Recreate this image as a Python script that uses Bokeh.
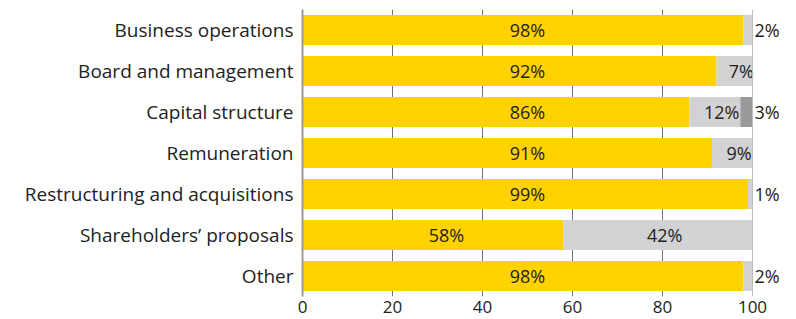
from bokeh.plotting import figure
from bokeh.models import ColumnDataSource, FactorRange, FixedTicker, Span
from bokeh.core.properties import value
from bokeh.embed import file_html
from bokeh.resources import INLINE
import numpy as np

categories = ["Business operations", "Board and management", "Capital structure",
              "Remuneration", "Restructuring and acquisitions", "Shareholders\u2019 proposals", "Other"]
for_votes = [98, 92, 86, 91, 99, 58, 98]
against_votes = [2, 8, 11.3, 9, 1, 42, 2]
abstain_votes = [0, 0, 2.7, 0, 0, 0, 0]
for_labels = ["98%", "92%", "86%", "91%", "99%", "58%", "98%"]
against_labels = ["2%", "7%", "12%", "9%", "1%", "42%", "2%"]
abstain_labels = ["", "", "3%", "", "", "", ""]
x_ticks = [0, 20, 40, 60, 80, 100]

YELLOW = "#FFD200"
LGREY = "#D2D2D4"
DGREY = "#999999"
TXT = "#222222"
FONT = "Open Sans"

f = np.array(for_votes, float)
a = np.array(against_votes, float)
b = np.array(abstain_votes, float)

src = ColumnDataSource(dict(cat=categories, f0=np.zeros(len(f)), f1=f, a1=f + a, b1=f + a + b))

# frame spans from 0 (px 302) to the right edge; 100 sits at px 752
X_END = 100 * (796 - 302) / (752 - 302)

p = figure(width=796, height=319, output_backend="svg", toolbar_location=None, title=None,
           y_range=FactorRange(factors=list(reversed(categories)), range_padding=0),
           x_range=(0, X_END), min_border_left=302, min_border_right=0,
           min_border_top=9, min_border_bottom=23)
p.outline_line_color = None
p.background_fill_color = "white"
p.border_fill_color = "white"

H = 0.73
p.hbar(y="cat", left="f0", right="f1", height=H, color=YELLOW, line_color=None, source=src)
p.hbar(y="cat", left="f1", right="a1", height=H, color=LGREY, line_color=None, source=src)
p.hbar(y="cat", left="a1", right="b1", height=H, color=DGREY, line_color=None, source=src)

p.add_layout(Span(location=100, dimension="height", line_color="#BDBDBD", line_width=1))

# labels
in_x, in_y, in_t = [], [], []
out_x, out_y, out_t = [], [], []
for i, c in enumerate(categories):
    fx = 50 if f[i] >= 80 else f[i] / 2 + 3
    in_x.append(fx); in_y.append(c); in_t.append(for_labels[i])
    for seg_l, seg_w, lab in ((f[i], a[i], against_labels[i]), (f[i] + a[i], b[i], abstain_labels[i])):
        if not lab:
            continue
        if seg_w >= 5:
            in_x.append(seg_l + seg_w / 2 + 1.5); in_y.append(c); in_t.append(lab)
        else:
            out_x.append(100); out_y.append(c); out_t.append(lab)

p.text(x=in_x, y=in_y, text=in_t, text_align="center", text_baseline="middle",
       text_font=value(FONT), text_font_size="18px", text_color=TXT)
p.text(x=out_x, y=out_y, text=out_t, text_align="left", text_baseline="middle", x_offset=2,
       text_font=value(FONT), text_font_size="18px", text_color=TXT)

p.xaxis.ticker = FixedTicker(ticks=x_ticks)
p.xaxis.axis_line_color = None
p.xaxis.major_tick_line_color = None
p.xaxis.minor_tick_line_color = None
p.xaxis.major_tick_out = 0
p.xaxis.major_tick_in = 0
p.xaxis.major_label_standoff = 4
p.xaxis.major_label_text_font = FONT
p.xaxis.major_label_text_font_size = "17px"
p.xaxis.major_label_text_color = TXT

p.yaxis.axis_line_color = "#9A9A9A"
p.yaxis.axis_line_width = 2
p.yaxis.major_tick_line_color = None
p.yaxis.minor_tick_line_color = None
p.yaxis.major_tick_out = 0
p.yaxis.major_tick_in = 0
p.yaxis.major_label_standoff = 9
p.yaxis.major_label_text_font = FONT
p.yaxis.major_label_text_font_size = "19px"
p.yaxis.major_label_text_color = TXT

p.xgrid.ticker = FixedTicker(ticks=[20, 40, 60, 80])
p.xgrid.grid_line_color = "#707070"
p.xgrid.grid_line_width = 1
p.ygrid.grid_line_color = None

open("out.html", "w").write(file_html(p, INLINE))
